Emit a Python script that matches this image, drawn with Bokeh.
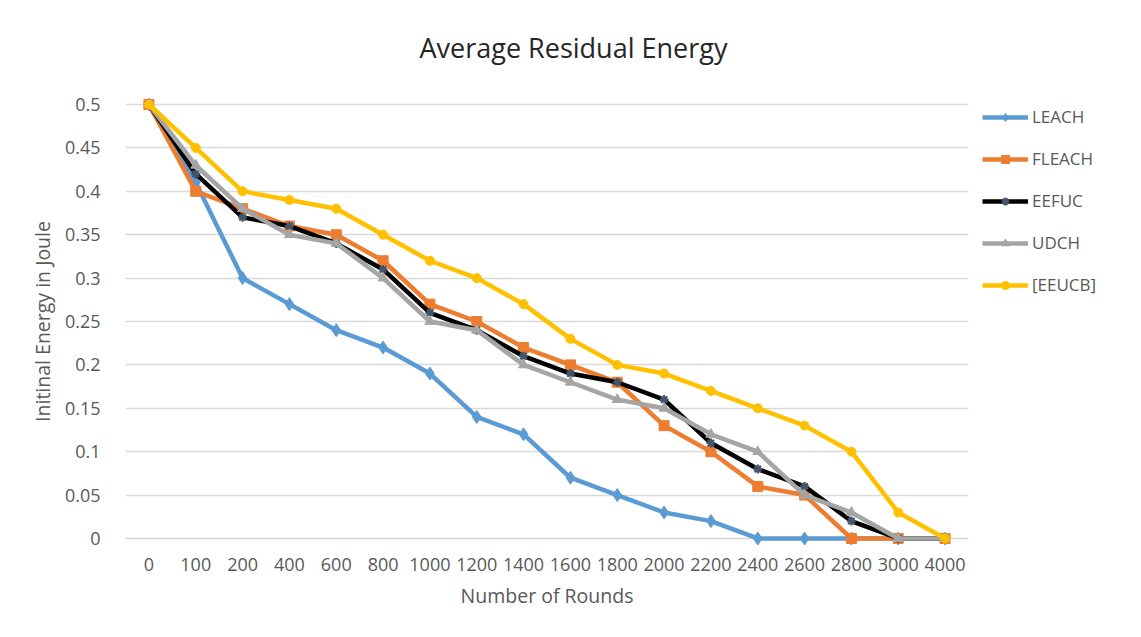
from bokeh.plotting import figure
from bokeh.models import Range1d, FactorRange, Legend, LegendItem
from bokeh.embed import file_html
from bokeh.resources import INLINE

rounds = ["0", "100", "200", "400", "600", "800", "1000", "1200", "1400", "1600",
          "1800", "2000", "2200", "2400", "2600", "2800", "3000", "4000"]
leach = [0.5, 0.41, 0.30, 0.27, 0.24, 0.22, 0.19, 0.14, 0.12, 0.07, 0.05, 0.03, 0.02, 0.0, 0.0, 0.0, 0.0, 0.0]
fleach = [0.5, 0.40, 0.38, 0.36, 0.35, 0.32, 0.27, 0.25, 0.22, 0.20, 0.18, 0.13, 0.10, 0.06, 0.05, 0.0, 0.0, 0.0]
eefuc = [0.5, 0.42, 0.37, 0.36, 0.34, 0.31, 0.26, 0.24, 0.21, 0.19, 0.18, 0.16, 0.11, 0.08, 0.06, 0.02, 0.0, 0.0]
udch = [0.5, 0.43, 0.38, 0.35, 0.34, 0.30, 0.25, 0.24, 0.20, 0.18, 0.16, 0.15, 0.12, 0.10, 0.05, 0.03, 0.0, 0.0]
eeucb = [0.5, 0.45, 0.40, 0.39, 0.38, 0.35, 0.32, 0.30, 0.27, 0.23, 0.20, 0.19, 0.17, 0.15, 0.13, 0.10, 0.03, 0.0]
y_ticks = [0, 0.05, 0.1, 0.15, 0.2, 0.25, 0.3, 0.35, 0.4, 0.45, 0.5]

FONT = "Open Sans"
GREY = "#595959"

p = figure(frame_width=843, frame_height=460, x_range=FactorRange(*rounds),
           y_range=Range1d(-0.015, 0.515), output_backend="svg",
           toolbar_location=None, title="Average Residual Energy",
           min_border_left=125, min_border_right=10, min_border_top=91,
           min_border_bottom=86)
p.outline_line_color = None
p.background_fill_color = "white"
p.border_fill_color = "white"

p.title.text_font = FONT
p.title.text_font_size = "27px"
p.title.text_font_style = "normal"
p.title.text_color = "#262626"
p.title.align = "left"
p.title.offset = 294
p.title.standoff = 52

p.xgrid.grid_line_color = None
p.ygrid.grid_line_color = "#d9d9d9"
p.ygrid.grid_line_width = 1.5

p.yaxis.ticker = y_ticks
p.yaxis.major_label_overrides = {0: "0", 0.05: "0.05", 0.1: "0.1", 0.15: "0.15", 0.2: "0.2",
                                 0.25: "0.25", 0.3: "0.3", 0.35: "0.35", 0.4: "0.4",
                                 0.45: "0.45", 0.5: "0.5"}
for ax in (p.xaxis[0], p.yaxis[0]):
    ax.axis_line_color = None
    ax.major_tick_line_color = None
    ax.minor_tick_line_color = None
    ax.major_label_text_font = FONT
    ax.major_label_text_font_size = "18px"
    ax.major_label_text_color = GREY
    ax.axis_label_text_font = FONT
    ax.axis_label_text_font_size = "19.5px"
    ax.axis_label_text_font_style = "normal"
    ax.axis_label_text_color = GREY

p.yaxis.major_label_standoff = 19
p.yaxis.axis_label = "Initinal Energy in Joule"
p.yaxis.axis_label_standoff = 6
p.xaxis.major_label_standoff = 0
p.xaxis.axis_label = "Number of Rounds"
p.xaxis.axis_label_standoff = 8

series = [
    ("LEACH", leach, "#5B9BD5", "diamond", 13, "#5B9BD5"),
    ("FLEACH", fleach, "#ED7D31", "square", 10, "#ED7D31"),
    ("EEFUC", eefuc, "#000000", "asterisk", 9, "#44546A"),
    ("UDCH", udch, "#A5A5A5", "triangle", 10, "#A5A5A5"),
    ("[EEUCB]", eeucb, "#FFC000", "circle", 9, "#FFC000"),
]

items = []
for name, vals, col, mk, sz, mcol in series:
    r1 = p.line(rounds, vals, line_color=col, line_width=4.5)
    if mk == "asterisk":
        r2 = p.scatter(rounds, vals, marker=mk, size=sz, line_color=mcol, line_width=2.2)
    else:
        r2 = p.scatter(rounds, vals, marker=mk, size=sz, fill_color=mcol, line_color=mcol)
    items.append(LegendItem(label=name, renderers=[r1, r2]))

legend = Legend(items=items, location="top_left")
legend.border_line_color = None
legend.background_fill_alpha = 0
legend.padding = 0
legend.margin = 14
legend.spacing = 19
legend.glyph_width = 46
legend.glyph_height = 20
legend.label_height = 20
legend.label_standoff = 4
legend.label_text_font = FONT
legend.label_text_font_size = "17px"
legend.label_text_color = GREY
p.add_layout(legend, "right")

open("out.html", "w").write(file_html(p, INLINE))
